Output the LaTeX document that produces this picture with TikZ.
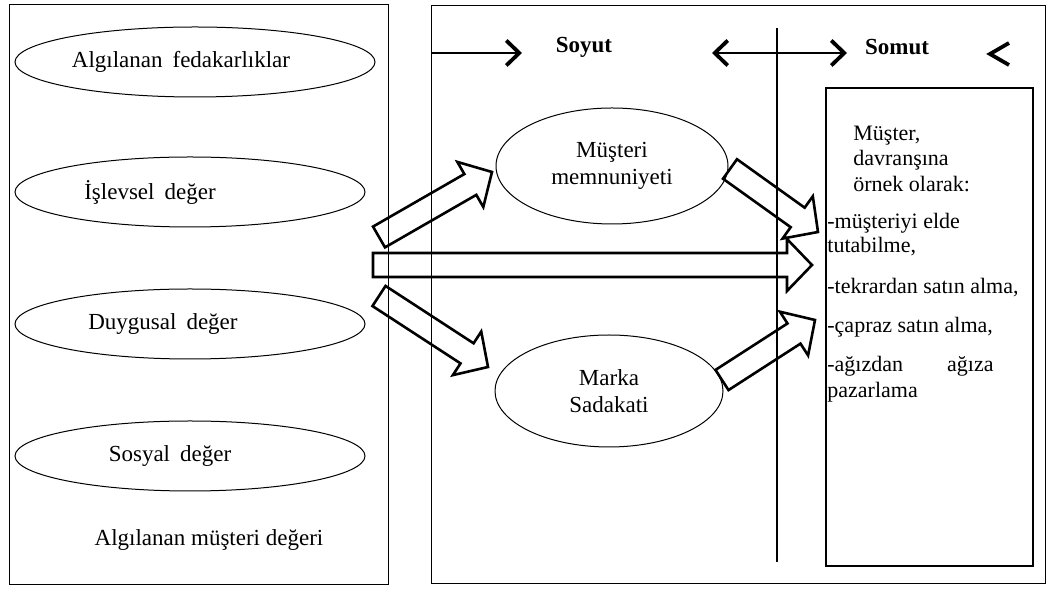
\documentclass[tikz,border=0pt]{standalone}
\usepackage{fontspec}
\setmainfont{Liberation Serif}
\usetikzlibrary{shapes.geometric,calc,arrows.meta}

\tikzset{
  frame/.style={draw, line width=0.7pt, inner sep=0pt, anchor=north west},
  oval/.style={draw, ellipse, line width=0.5pt, inner sep=0pt},
  txt/.style={inner sep=0pt, font=\fontsize{11}{13}\selectfont},
  bigtxt/.style={inner sep=0pt, font=\fontsize{11.5}{13.5}\selectfont},
  boxtxt/.style={txt, anchor=west},
  hollow/.style={draw, line width=1.3pt, line join=miter},
  barb/.tip={Straight Barb[length=6.5pt,width=12.5pt,line width=1.9pt]},
  toparrow/.style={line width=1.25pt},
}

% hollow block arrow from tail #1 to tip #2
\newcommand\blockarrow[2]{%
  \coordinate (ba-base) at ($(#2)!12.5pt!(#1)$);
  \draw[hollow]
    ($(#1)!6pt!90:(#2)$) -- ($(ba-base)!6pt!-90:(#1)$) --
    ($(ba-base)!13pt!-90:(#1)$) -- (#2) --
    ($(ba-base)!13pt!90:(#1)$) -- ($(ba-base)!6pt!90:(#1)$) --
    ($(#1)!6pt!-90:(#2)$) -- cycle;
}

\begin{document}
\begin{tikzpicture}[x=0.5pt,y=-0.5pt]
\useasboundingbox (0,0) rectangle (1051,592);

% frames
\node[frame, minimum width=189.5pt, minimum height=290pt] (leftbox) at (9,4) {};
\node[frame, minimum width=307pt, minimum height=289pt] (rightbox) at (431,5) {};
\node[frame, line width=1pt, minimum width=103.5pt, minimum height=239pt] (behbox) at (825,87) {};

% perceived value components
\node[oval, bigtxt, minimum width=180pt, minimum height=35pt] (sac) at (195,62) {Algılanan\hspace{5pt}fedakarlıklar\hspace*{14pt}};
\node[oval, bigtxt, minimum width=175pt, minimum height=35pt] (fun) at (190,192) {İşlevsel\hspace{5pt}değer\hspace*{40pt}};
\node[oval, bigtxt, minimum width=175pt, minimum height=35pt] (emo) at (190,324) {Duygusal\hspace{5pt}değer\hspace*{27pt}};
\node[oval, bigtxt, minimum width=175pt, minimum height=35pt] (soc) at (190,456) {Sosyal\hspace{5pt}değer\hspace*{20pt}};
\node[bigtxt] (pcv) at (209,540) {Algılanan müşteri değeri};

% outcomes
\node[oval, bigtxt, align=center, minimum width=116pt, minimum height=58pt] (sat) at (612,166) {Müşteri\\memnuniyeti};
\node[oval, bigtxt, align=center, minimum width=114pt, minimum height=56pt] (loy) at (609,391) {Marka\\Sadakati};

% divider between abstract and concrete
\coordinate (divtop) at (777,28);
\coordinate (divbot) at (777,562);
\draw[line width=1.2pt] (divtop) -- (divbot);

% header arrows and labels
\coordinate (s1) at (431,53);
\coordinate (e1) at (522,53);
\coordinate (s2) at (712,53);
\coordinate (e2) at (847,53);
\draw[toparrow, -{barb}] (s1) -- (e1);
\draw[toparrow, {barb}-{barb}] (s2) -- (e2);
\coordinate (c1) at (1009,43);
\coordinate (c2) at (990,54);
\coordinate (c3) at (1009,65);
\draw[line width=1.9pt, line join=miter] (c1) -- (c2) -- (c3);
\node[txt, font=\fontsize{11.5}{13}\selectfont\bfseries] (soyut) at (584,47) {Soyut};
\node[txt, font=\fontsize{11.5}{13}\selectfont\bfseries] (somut) at (897,47) {Somut};

% behaviour list
\node[boxtxt] (b1) at (853,136) {Müşter,};
\node[boxtxt] (b2) at (853,160) {davranşına};
\node[boxtxt] (b3) at (853,184) {örnek olarak:};
\node[boxtxt] (b4) at (827,223) {-müşteriyi elde};
\node[boxtxt] (b5) at (827,247) {tutabilme,};
\node[boxtxt] (b6) at (827,288) {-tekrardan satın alma,};
\node[boxtxt] (b7) at (827,327) {-çapraz satın alma,};
\node[boxtxt] (b8) at (827,366) {-ağızdan\hspace{22pt}ağıza};
\node[boxtxt] (b9) at (827,392) {pazarlama};

% block arrows
\coordinate (t1) at (379,237); \coordinate (h1) at (492,172);
\coordinate (t2) at (373,265); \coordinate (h2) at (812,265);
\coordinate (t3) at (379,296); \coordinate (h3) at (488,367);
\coordinate (t4) at (730,169); \coordinate (h4) at (818,232);
\coordinate (t5) at (722,380); \coordinate (h5) at (815,320);
\blockarrow{t1}{h1}
\blockarrow{t2}{h2}
\blockarrow{t3}{h3}
\blockarrow{t4}{h4}
\blockarrow{t5}{h5}
\end{tikzpicture}
\end{document}
